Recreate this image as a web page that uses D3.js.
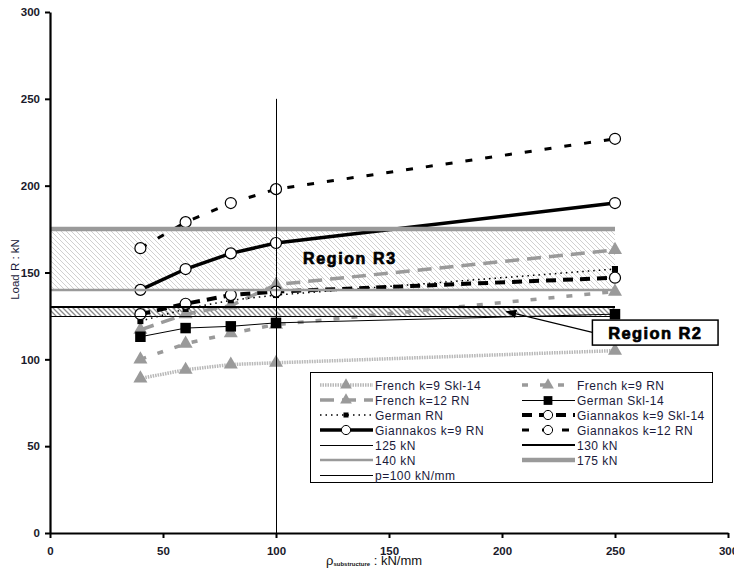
<!DOCTYPE html>
<html>
<head>
<meta charset="utf-8">
<script src="https://cdn.jsdelivr.net/npm/d3@7"></script>
<style>
  body { margin: 0; background: #fff; }
  svg { font-family: "Liberation Sans", Arial, sans-serif; }
</style>
</head>
<body>
<div id="chart"></div>
<script>
// chart size
const width = 734;
const height = 572;
const margin = {left: 50, right: 6, top: 12, bottom: 39};

// data
const pValues = [40, 60, 80, 100, 250];
const frenchK9Skl14 = [89, 94, 97, 98, 105];
const frenchK9RN = [100, 109, 115, 120, 139];
const frenchK12RN = [117, 126, 131, 143, 163];
const germanSkl14 = [113, 118, 119, 121, 126];
const germanRN = [122, 129, 134, 137, 152];
const giannakosK9Skl14 = [126, 132, 137, 139, 147];
const giannakosK9RN = [140, 152, 161, 167, 190];
const giannakosK12RN = [164, 179, 190, 198, 227];

// horizontal limits (kN) and the vertical p line
const limitLoads = [125, 130, 140, 175];
const limitRange = [0, 250];
const pLine = 100;
const pLineRange = [0, 250];

const xTicks = [0, 50, 100, 150, 200, 250, 300];
const yTicks = [0, 50, 100, 150, 200, 250, 300];

const svg = d3.select("#chart")
  .append("svg")
  .attr("width", width)
  .attr("height", height);

const x = d3.scaleLinear().domain([0, 300]).range([margin.left, width - margin.right]);
const y = d3.scaleLinear().domain([0, 300]).range([height - margin.bottom, margin.top]);

// hatch patterns for the two regions
const defs = svg.append("defs");
function hatch(id, color, w) {
  const p = defs.append("pattern")
    .attr("id", id)
    .attr("patternUnits", "userSpaceOnUse")
    .attr("width", 5).attr("height", 5);
  p.append("path")
    .attr("d", "M-1,-1 L6,6 M-1,4 L1,6 M4,-1 L6,1")
    .attr("stroke", color)
    .attr("stroke-width", w);
}
hatch("hatchR3", "#c4c4c4", 0.8);
hatch("hatchR2", "#8a8a8a", 1.3);

defs.append("marker")
  .attr("id", "arrow")
  .attr("viewBox", "0 0 10 10")
  .attr("refX", 9).attr("refY", 5)
  .attr("markerWidth", 9).attr("markerHeight", 9)
  .attr("orient", "auto")
  .append("path")
  .attr("d", "M0,1 L10,5 L0,9 Z")
  .attr("fill", "#000");

// region fills
svg.append("rect")
  .attr("x", x(limitRange[0]))
  .attr("y", y(limitLoads[3]))
  .attr("width", x(limitRange[1]) - x(limitRange[0]))
  .attr("height", y(limitLoads[2]) - y(limitLoads[3]))
  .attr("fill", "url(#hatchR3)");
svg.append("rect")
  .attr("x", x(limitRange[0]))
  .attr("y", y(limitLoads[1]))
  .attr("width", x(limitRange[1]) - x(limitRange[0]))
  .attr("height", y(limitLoads[0]) - y(limitLoads[1]))
  .attr("fill", "url(#hatchR2)");

// series definitions (style only)
const gray = "#9a9a9a";
const series = [
  {name: "French k=9 Skl-14", values: frenchK9Skl14, stroke: "#b8b8b8", sw: 3.5, dash: "1.5,1", marker: "tri", mfill: gray, mstroke: "none", msize: 85},
  {name: "French k=9 RN", values: frenchK9RN, stroke: gray, sw: 3.5, dash: "6,12", marker: "tri", mfill: gray, mstroke: "none", msize: 85},
  {name: "French k=12 RN", values: frenchK12RN, stroke: gray, sw: 3.5, dash: "14,8", marker: "tri", mfill: gray, mstroke: "none", msize: 85},
  {name: "German Skl-14", values: germanSkl14, stroke: "#000", sw: 1, dash: null, marker: "sq", mfill: "#000", mstroke: "none", msize: 110},
  {name: "German RN", values: germanRN, stroke: "#000", sw: 1.5, dash: "1.5,4", marker: "sq", mfill: "#000", mstroke: "none", msize: 36},
  {name: "Giannakos k=9 Skl-14", values: giannakosK9Skl14, stroke: "#000", sw: 4, dash: "10,7", marker: "circ", mfill: "#fff", mstroke: "#000", msize: 95},
  {name: "Giannakos k=9 RN", values: giannakosK9RN, stroke: "#000", sw: 3.5, dash: null, marker: "circ", mfill: "#fff", mstroke: "#000", msize: 95},
  {name: "Giannakos k=12 RN", values: giannakosK12RN, stroke: "#000", sw: 3, dash: "7,13", marker: "circ", mfill: "#fff", mstroke: "#000", msize: 95}
];
const symbolType = {tri: d3.symbolTriangle, sq: d3.symbolSquare, circ: d3.symbolCircle};

const line = d3.line()
  .x((d, i) => x(pValues[i]))
  .y(d => y(d));

series.forEach(s => {
  svg.append("path")
    .attr("d", line(s.values))
    .attr("fill", "none")
    .attr("stroke", s.stroke)
    .attr("stroke-width", s.sw)
    .attr("stroke-dasharray", s.dash);
  svg.selectAll(null)
    .data(s.values)
    .enter()
    .append("path")
    .attr("d", d3.symbol(symbolType[s.marker], s.msize))
    .attr("transform", (d, i) => `translate(${x(pValues[i])},${y(d)})`)
    .attr("fill", s.mfill)
    .attr("stroke", s.mstroke)
    .attr("stroke-width", 1.2);
});

// limit lines
const limitStyle = [
  {name: "125 kN", stroke: "#000", sw: 1},
  {name: "130 kN", stroke: "#000", sw: 2.2},
  {name: "140 kN", stroke: gray, sw: 2.5},
  {name: "175 kN", stroke: gray, sw: 4.5}
];
limitLoads.forEach((v, i) => {
  const off = limitStyle[i].sw === 1 ? 0.5 : 0;
  svg.append("line")
    .attr("x1", x(limitRange[0])).attr("x2", x(limitRange[1]))
    .attr("y1", Math.round(y(v)) + off).attr("y2", Math.round(y(v)) + off)
    .attr("stroke", limitStyle[i].stroke)
    .attr("stroke-width", limitStyle[i].sw);
});
svg.append("line")
  .attr("x1", Math.round(x(pLine)) + 0.5).attr("x2", Math.round(x(pLine)) + 0.5)
  .attr("y1", y(pLineRange[0])).attr("y2", y(pLineRange[1]))
  .attr("stroke", "#000")
  .attr("stroke-width", 1);

// axes
const yAxis = svg.append("g")
  .attr("transform", `translate(${x(0)},0)`)
  .call(d3.axisLeft(y).tickValues(yTicks).tickSize(5).tickSizeOuter(0));
const xAxis = svg.append("g")
  .attr("transform", `translate(0,${y(0)})`)
  .call(d3.axisBottom(x).tickValues(xTicks).tickSize(5).tickSizeOuter(0));
[xAxis, yAxis].forEach(a => {
  a.select(".domain").attr("stroke-width", 2.2);
  a.selectAll(".tick line").attr("stroke-width", 2);
  a.selectAll("text")
    .attr("font-family", "Liberation Sans, Arial, sans-serif")
    .attr("font-size", 11.5)
    .attr("font-weight", "bold")
    .attr("fill", "#1a1a2a");
});
xAxis.selectAll("text").attr("dy", "1.25em");
yAxis.selectAll("text").attr("x", -10);

// axis titles
svg.append("text")
  .attr("transform", `translate(19,${y(150) - 3}) rotate(-90)`)
  .attr("text-anchor", "middle")
  .attr("font-size", 11.5)
  .attr("fill", "#1a1a3a")
  .text("Load R : kN");

const xt = svg.append("text")
  .attr("x", 326)
  .attr("y", 565)
  .attr("font-size", 13)
  .attr("fill", "#111");
xt.append("tspan").text("ρ");
xt.append("tspan").attr("font-size", 6).attr("font-weight", "bold").attr("dy", 1).text("substructure");
xt.append("tspan").attr("dy", -1).text(" : kN/mm");

// region labels
svg.append("text")
  .attr("x", x(112))
  .attr("y", y(155))
  .attr("font-size", 16)
  .attr("font-weight", "bold")
  .attr("stroke", "#000")
  .attr("stroke-width", 0.7)
  .attr("letter-spacing", 1.6)
  .text("Region R3");

svg.append("line")
  .attr("x1", x(240)).attr("y1", y(115.5))
  .attr("x2", x(202)).attr("y2", y(127.5))
  .attr("stroke", "#000")
  .attr("stroke-width", 1.2)
  .attr("marker-end", "url(#arrow)");
svg.append("rect")
  .attr("x", x(240)).attr("y", y(122.6))
  .attr("width", x(295.6) - x(240))
  .attr("height", y(108.2) - y(122.6))
  .attr("fill", "#fff")
  .attr("stroke", "#000")
  .attr("stroke-width", 1.5);
svg.append("text")
  .attr("x", (x(240) + x(295.6)) / 2)
  .attr("y", y(115.4) + 6)
  .attr("text-anchor", "middle")
  .attr("font-size", 16.5)
  .attr("font-weight", "bold")
  .attr("stroke", "#000")
  .attr("stroke-width", 0.7)
  .attr("letter-spacing", 1.4)
  .text("Region R2");

// legend
const legend = svg.append("g");
legend.append("rect")
  .attr("x", 310.5).attr("y", 372.5)
  .attr("width", 402).attr("height", 110)
  .attr("fill", "#fff")
  .attr("stroke", "#000")
  .attr("stroke-width", 1);

const legendItems = series.map(s => ({...s}))
  .concat(limitStyle.map(l => ({name: l.name, stroke: l.stroke, sw: l.sw, dash: null, marker: null})))
  .concat([{name: "p=100 kN/mm", stroke: "#000", sw: 1, dash: null, marker: null}]);

legendItems.forEach((d, i) => {
  const col = i % 2;
  const row = Math.floor(i / 2);
  const lx = col === 0 ? 320 : 522;
  const ly = 385 + row * 15 + (d.sw === 1 ? 0.5 : 0);
  const g = legend.append("g").attr("transform", `translate(${lx},${ly})`);
  g.append("line")
    .attr("x1", 0).attr("x2", 53)
    .attr("y1", 0).attr("y2", 0)
    .attr("stroke", d.stroke)
    .attr("stroke-width", d.sw)
    .attr("stroke-dasharray", d.dash);
  if (d.marker) {
    g.append("path")
      .attr("d", d3.symbol(symbolType[d.marker], d.msize * 0.7))
      .attr("transform", "translate(26,0)")
      .attr("fill", d.mfill)
      .attr("stroke", d.mstroke)
      .attr("stroke-width", 1);
  }
  g.append("text")
    .attr("x", 55)
    .attr("y", 4.5)
    .attr("font-size", 12)
    .attr("fill", "#1a1a3a")
    .attr("letter-spacing", 0.5)
    .text(d.name);
});
</script>
</body>
</html>
